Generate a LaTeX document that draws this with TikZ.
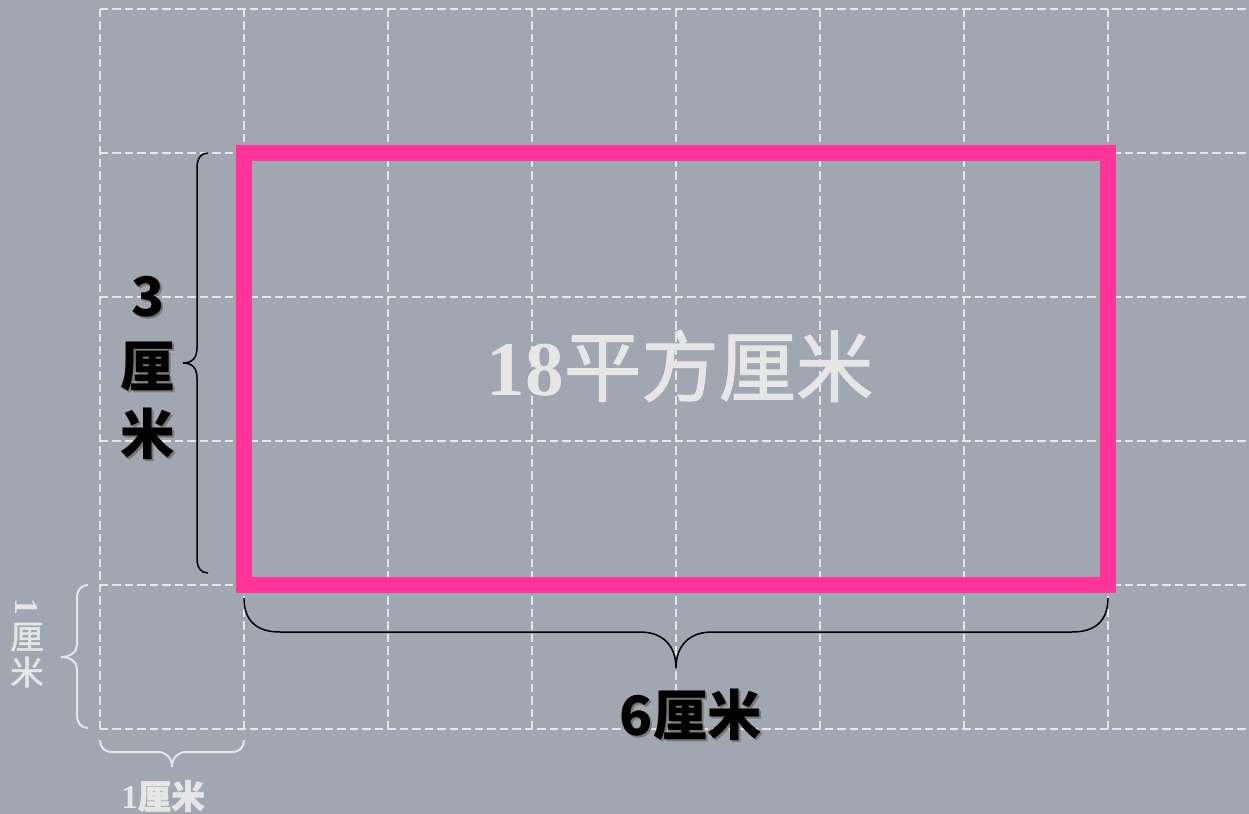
\documentclass[tikz,border=0pt]{standalone}
\usepackage{fontspec}
\setmainfont{Liberation Serif}
\newfontfamily\cjk{Noto Sans CJK SC}
\newfontfamily\cjkfb{Noto Sans CJK SC}[FakeBold=1.5]
\definecolor{bgc}{RGB}{160,167,176}
\definecolor{gridc}{RGB}{230,230,230}
\definecolor{pinkc}{RGB}{255,51,153}
\definecolor{shadowc}{RGB}{120,120,120}
\begin{document}
\begin{tikzpicture}[x=0.02cm,y=-0.02cm,
  gridline/.style={draw=gridc,line width=0.045cm,dash pattern=on 0.17cm off 0.08cm},
  bracek/.style={draw=black,line width=0.03cm},
  braceg/.style={draw=gridc,line width=0.04cm},
  lbl/.style={inner sep=0,anchor=center},
  blacklbl/.style={lbl,font=\cjk\bfseries\fontsize{31}{31}\selectfont,text=black},
  shadowlbl/.style={lbl,font=\cjk\bfseries\fontsize{31}{31}\selectfont,text=shadowc},
  greylbl/.style={lbl,font=\bfseries\fontsize{19}{19}\selectfont,text=gridc}]
\fill[bgc] (0,0) rectangle (1249,814);
\useasboundingbox (0,0) rectangle (1249,814);
% area text (under grid)
\node[lbl,text=gridc,font=\fontsize{44}{44}\selectfont] (area) at (680,366) {\textbf{18}{\cjkfb 平方厘米}};
% grid
\foreach \x in {100,244,...,1108} \draw[gridline] (\x,9) -- (\x,729);
\foreach \y in {9,153,...,729} \draw[gridline] (100,\y) -- (1249,\y);
% pink rectangle
\draw[pinkc,line width=0.32cm] (244,153) rectangle (1108,585);
% black braces
\draw[bracek] (208,153) .. controls (201,153) and (197,158) .. (197,168) -- (197,348)
  .. controls (197,358) and (192,363) .. (183,363)
  .. controls (192,363) and (197,368) .. (197,378) -- (197,558)
  .. controls (197,568) and (201,573) .. (208,573);
\draw[bracek] (244,598) .. controls (244,620) and (256,632) .. (280,632) -- (640,632)
  .. controls (662,632) and (676,645) .. (676,668)
  .. controls (676,645) and (690,632) .. (712,632) -- (1072,632)
  .. controls (1096,632) and (1108,620) .. (1108,598);
% grey braces
\draw[braceg] (88,585) .. controls (81,585) and (77,590) .. (77,598) -- (77,645)
  .. controls (77,652) and (70,657) .. (61,657)
  .. controls (70,657) and (77,662) .. (77,669) -- (77,715)
  .. controls (77,723) and (81,728) .. (88,728);
\draw[braceg] (100,740) .. controls (100,747) and (104,752) .. (112,752) -- (158,752)
  .. controls (166,752) and (172,758) .. (172,767)
  .. controls (172,758) and (178,752) .. (186,752) -- (232,752)
  .. controls (240,752) and (244,747) .. (244,740);
% labels 3 cm
\foreach \t/\yy/\nm in {3/297/a,厘/367/b,米/434/c} {
  \node[shadowlbl] (s3\nm) at (150,\yy+2) {\t};
  \node[blacklbl] (l3\nm) at (148,\yy) {\t};
}
% label 6 cm
\node[shadowlbl] (s6) at (693,717) {6厘米};
\node[blacklbl] (l6) at (691,715) {6厘米};
% grey labels
\node[greylbl,rotate=-90] (g1a) at (27,607) {1};
\node[greylbl,font=\cjkfb\fontsize{19}{19}\selectfont] (g1b) at (27,637) {厘};
\node[greylbl,font=\cjkfb\fontsize{19}{19}\selectfont] (g1c) at (27,672) {米};
\node[greylbl] (g2) at (163,796) {1{\cjkfb 厘米}};
\end{tikzpicture}
\end{document}
